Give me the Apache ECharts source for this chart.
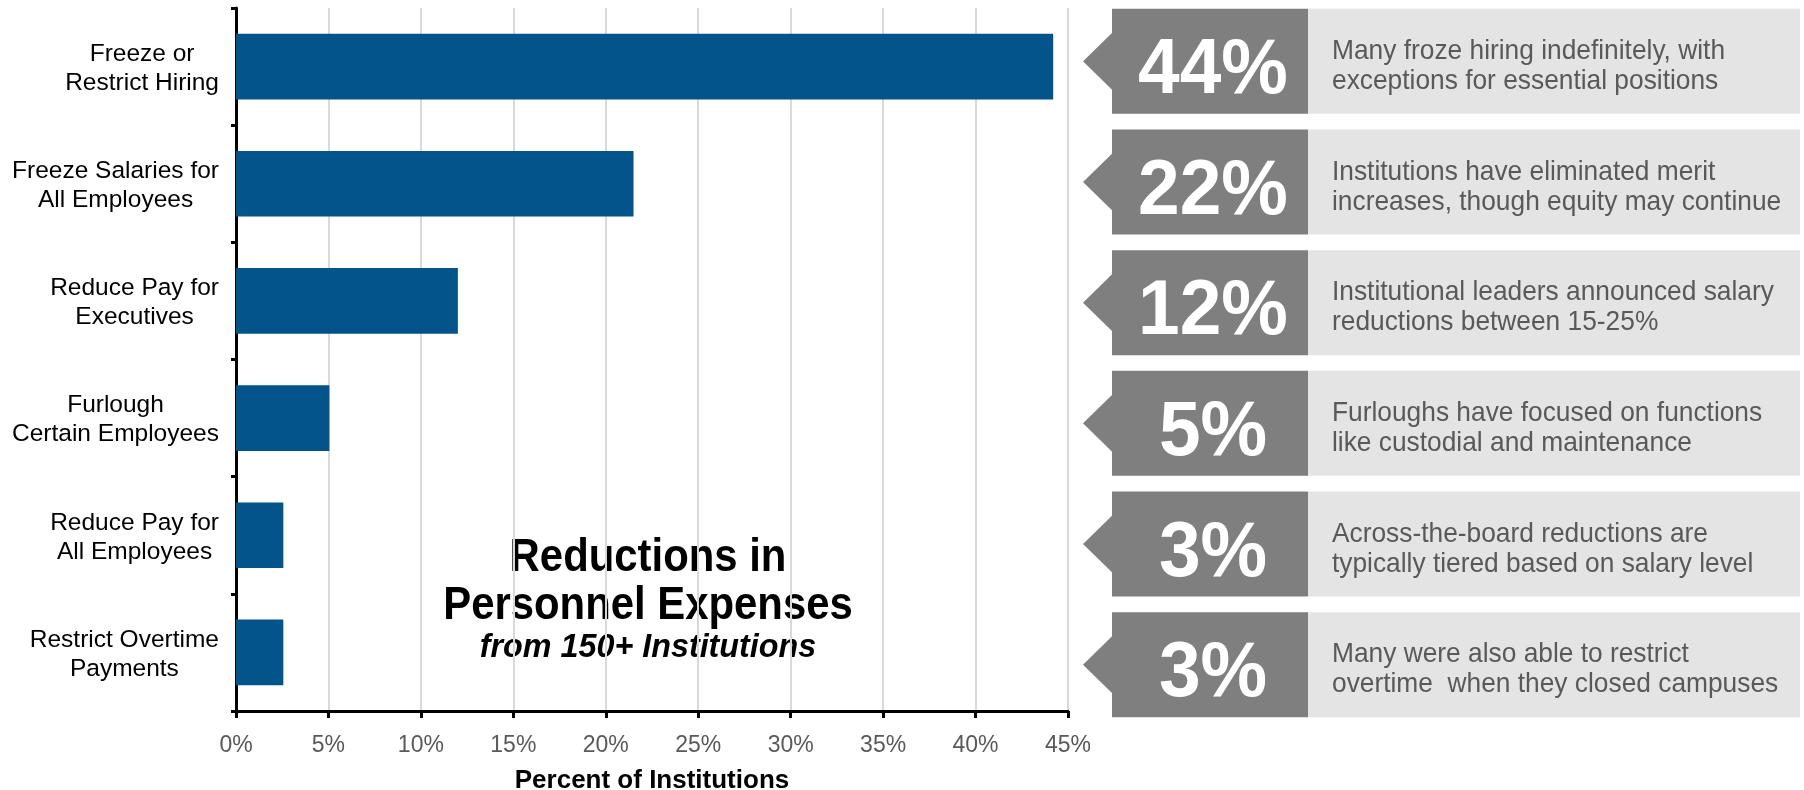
<!DOCTYPE html>
<html>
<head>
<meta charset="utf-8">
<title>Reductions in Personnel Expenses</title>
<script src="https://cdn.jsdelivr.net/npm/echarts@6/dist/echarts.min.js"></script>
<style>
  html, body { margin: 0; padding: 0; background: #ffffff; }
  #chart { width: 1804px; height: 790px; }
</style>
</head>
<body>
<div id="chart"></div>
<script>
// Actions taken to reduce personnel expenses, share of institutions (%)
const categories = [
  'Freeze or\nRestrict Hiring',
  'Freeze Salaries for\nAll Employees',
  'Reduce Pay for\nExecutives',
  'Furlough\nCertain Employees',
  'Reduce Pay for\nAll Employees',
  'Restrict Overtime\nPayments'
];
const shares = [44.2, 21.5, 12.0, 5.05, 2.56, 2.56];

// Commentary shown next to each rounded share
const notes = [
  'Many froze hiring indefinitely, with\nexceptions for essential positions',
  'Institutions have eliminated merit\nincreases, though equity may continue',
  'Institutional leaders announced salary\nreductions between 15-25%',
  'Furloughs have focused on functions\nlike custodial and maintenance',
  'Across-the-board reductions are\ntypically tiered based on salary level',
  'Many were also able to restrict\novertime  when they closed campuses'
];

// Percent axis ticks
const axisMin = 0;
const axisMax = 45;
const axisStep = 5;

const titleLines = ['Reductions in', 'Personnel Expenses'];
const subtitle = 'from 150+ Institutions';
const axisTitle = 'Percent of Institutions';

const FONT = '"Liberation Sans", Arial, Helvetica, sans-serif';
const BAR_BLUE = '#03548a';
const DARK_GREY = '#7f7f7f';
const LIGHT_GREY = '#e4e4e4';
const NOTE_TEXT = '#595959';

const chart = echarts.init(document.getElementById('chart'), null, { renderer: 'canvas' });

// Callout box: arrow-tipped dark tab with the rounded share, then a light panel with the note
function renderCallout(params, api) {
  const catIndex = api.value(1);
  const value = api.value(2);
  const cs = params.coordSys;
  const center = api.coord([0, catIndex]);
  const band = api.size([0, 1])[1];
  const h = band * 0.87;
  const cy = center[1];
  const top = cy - h / 2;
  const x0 = cs.x;
  const tip = 29;
  const darkRight = x0 + 225;
  const arrowHalf = h * 0.27;

  return {
    type: 'group',
    children: [
      {
        type: 'polygon',
        shape: {
          points: [
            [x0 + tip, top], [darkRight, top], [darkRight, top + h], [x0 + tip, top + h],
            [x0 + tip, cy + arrowHalf], [x0, cy], [x0 + tip, cy - arrowHalf]
          ]
        },
        style: { fill: DARK_GREY }
      },
      {
        type: 'rect',
        shape: { x: darkRight, y: top, width: cs.x + cs.width - darkRight, height: h },
        style: { fill: LIGHT_GREY }
      },
      {
        type: 'text',
        x: (x0 + tip + darkRight) / 2 + 3,
        y: cy + 10,
        scaleX: 0.96,
        style: {
          text: Math.round(value) + '%',
          fill: '#ffffff',
          font: 'bold 78px ' + FONT,
          align: 'center', textAlign: 'center',
          verticalAlign: 'middle', textVerticalAlign: 'middle'
        }
      },
      {
        type: 'text',
        x: darkRight + 24,
        y: cy + 5,
        scaleX: 0.94,
        style: {
          text: notes[params.dataIndex],
          fill: NOTE_TEXT,
          font: '28px ' + FONT,
          lineHeight: 30,
          align: 'left', textAlign: 'left',
          verticalAlign: 'middle', textVerticalAlign: 'middle'
        }
      }
    ]
  };
}

const option = {
  backgroundColor: '#ffffff',
  animation: false,
  textStyle: { fontFamily: FONT },
  grid: [
    { left: 236, right: 736, top: 8, bottom: 79, outerBoundsMode: 'none', containLabel: false },
    { left: 1083, right: 4, top: 1, height: 724, outerBoundsMode: 'none', containLabel: false }
  ],
  xAxis: [
    {
      gridIndex: 0,
      type: 'value',
      min: axisMin,
      max: axisMax,
      interval: axisStep,
      name: axisTitle,
      nameLocation: 'middle',
      nameGap: 57,
      nameTextStyle: { fontFamily: FONT, fontSize: 26, fontWeight: 'bold', color: '#000000' },
      axisLine: { show: true, lineStyle: { color: '#000000', width: 3 } },
      axisTick: { show: true, length: 7, lineStyle: { color: '#000000', width: 3 } },
      axisLabel: {
        formatter: '{value}%',
        color: NOTE_TEXT,
        fontFamily: FONT,
        fontSize: 23,
        margin: 23
      },
      splitLine: { show: true, lineStyle: { color: '#d9d9d9', width: 2 } }
    },
    { gridIndex: 1, type: 'value', min: 0, max: 1, show: false }
  ],
  yAxis: [
    {
      gridIndex: 0,
      type: 'category',
      inverse: true,
      data: categories,
      axisLine: { show: true, lineStyle: { color: '#000000', width: 3 } },
      axisTick: { show: true, length: 5, lineStyle: { color: '#000000', width: 3 } },
      axisLabel: {
        margin: 17,
        padding: [4, 0, 0, 0],
        formatter: function (v) {
          return v.split('\n').map(function (s) { return '{c|' + s + '}'; }).join('\n');
        },
        rich: {
          c: { align: 'center', fontFamily: FONT, fontSize: 24.5, lineHeight: 29, color: '#000000' }
        }
      },
      splitLine: { show: false }
    },
    { gridIndex: 1, type: 'category', inverse: true, data: categories, show: false }
  ],
  series: [
    {
      type: 'bar',
      xAxisIndex: 0,
      yAxisIndex: 0,
      data: shares,
      barWidth: '56%',
      itemStyle: { color: BAR_BLUE },
      silent: true
    },
    {
      type: 'custom',
      xAxisIndex: 1,
      yAxisIndex: 1,
      renderItem: renderCallout,
      data: shares.map(function (v, i) { return [0, i, v]; }),
      encode: { x: 0, y: 1 },
      silent: true,
      z: 3
    }
  ],
  graphic: [
    {
      type: 'group',
      silent: true,
      z: 10,
      children: [
        { type: 'rect', shape: { x: 440, y: 523, width: 418, height: 144 }, style: { fill: '#ffffff' } },
        {
          type: 'text', x: 648, y: 558, scaleX: 0.91,
          style: { text: titleLines[0], fill: '#000000', font: 'bold 46px ' + FONT,
                   align: 'center', textAlign: 'center', verticalAlign: 'middle', textVerticalAlign: 'middle' }
        },
        {
          type: 'text', x: 648, y: 606, scaleX: 0.91,
          style: { text: titleLines[1], fill: '#000000', font: 'bold 46px ' + FONT,
                   align: 'center', textAlign: 'center', verticalAlign: 'middle', textVerticalAlign: 'middle' }
        },
        {
          type: 'text', x: 648, y: 648, scaleX: 0.95,
          style: { text: subtitle, fill: '#000000', font: 'italic bold 34px ' + FONT,
                   align: 'center', textAlign: 'center', verticalAlign: 'middle', textVerticalAlign: 'middle' }
        }
      ]
    }
  ]
};

chart.setOption(option);
</script>
</body>
</html>
